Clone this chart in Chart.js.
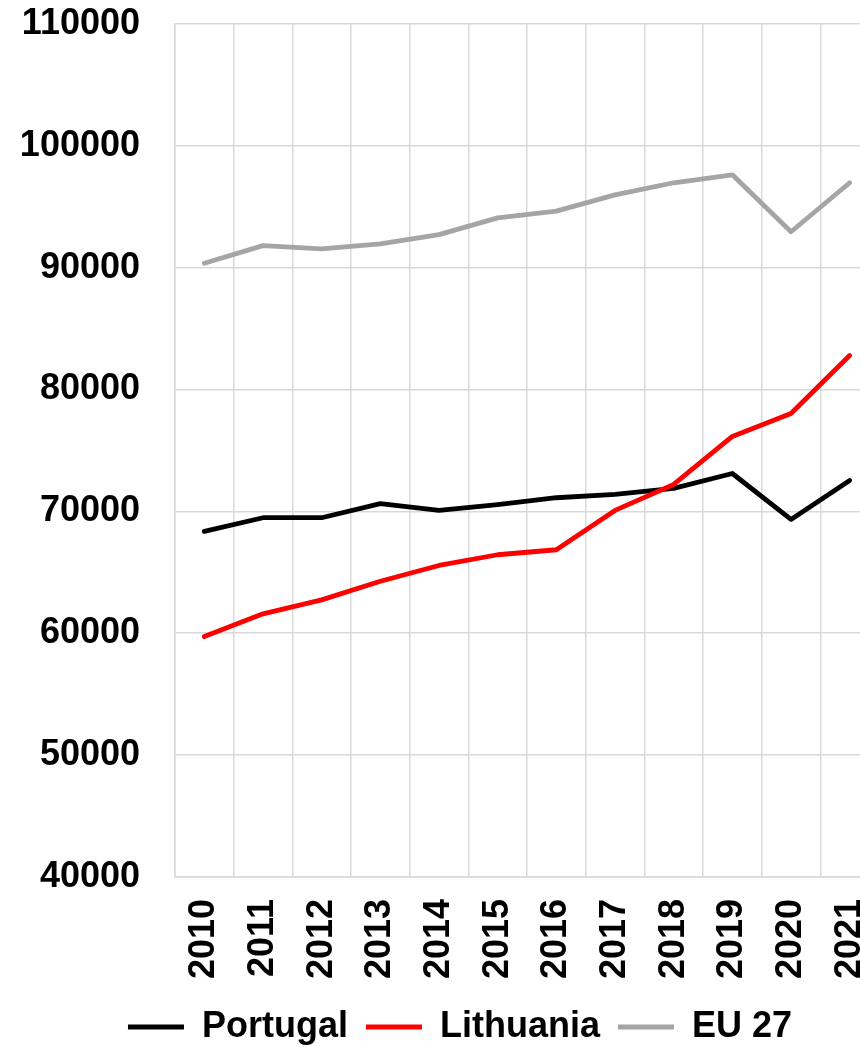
<!DOCTYPE html>
<html>
<head>
<meta charset="utf-8">
<script src="https://cdn.jsdelivr.net/npm/chart.js@4.4.0/dist/chart.umd.min.js"></script>
<style>
    html, body { margin: 0; padding: 0; background: #ffffff; overflow: hidden; }
    canvas { display: block; }
</style>
</head>
<body>
<canvas id="lineChart" width="900" height="1055"></canvas>
<script>
const years = ["2010", "2011", "2012", "2013", "2014", "2015", "2016", "2017", "2018", "2019", "2020", "2021"];
const portugal = [68360, 69480, 69480, 70630, 70080, 70550, 71120, 71400, 71890, 73110, 69340, 72540];
const lithuania = [59730, 61590, 62740, 64270, 65560, 66440, 66850, 70080, 72210, 76150, 78030, 82790];
const eu27 = [90360, 91810, 91540, 91950, 92710, 94090, 94640, 95980, 96970, 97620, 92950, 96970];

const FONT = "Arial, 'Liberation Sans', sans-serif";
const GRID = "#d9d9d9";

function series(label, data, color, order) {
    return {
        label: label,
        data: data,
        borderColor: color,
        backgroundColor: color,
        borderWidth: 4.8,
        borderCapStyle: "round",
        borderJoinStyle: "round",
        pointRadius: 0,
        tension: 0,
        order: order
    };
}

const ctx = document.getElementById("lineChart");
new Chart(ctx, {
    type: "line",
    data: {
        labels: years,
        datasets: [
            series("Portugal", portugal, "#000000", 2),
            series("Lithuania", lithuania, "#ff0000", 1),
            series("EU 27", eu27, "#a5a5a5", 0)
        ]
    },
    options: {
        responsive: false,
        animation: false,
        layout: {
            padding: { left: 20, right: 0, top: 24, bottom: 0 }
        },
        scales: {
            x: {
                offset: true,
                grid: { color: GRID, lineWidth: 1.5, offset: true, drawTicks: false },
                border: { color: GRID, width: 1.5 },
                ticks: {
                    color: "#000000",
                    font: { family: FONT, size: 36, weight: "bold" },
                    minRotation: 90,
                    maxRotation: 90,
                    padding: 22,
                    autoSkip: false
                },
                afterFit: function (scale) {
                    scale.height -= 10;
                    scale.paddingRight = 21;
                }
            },
            y: {
                min: 40000,
                max: 110000,
                grid: { color: GRID, lineWidth: 1.5, drawTicks: false },
                border: { color: GRID, width: 1.5 },
                ticks: {
                    stepSize: 10000,
                    color: "#000000",
                    font: { family: FONT, size: 36, weight: "bold" },
                    padding: 35,
                    callback: value => String(value)
                },
                afterFit: function (scale) {
                    scale.width = 155;
                    scale.paddingTop = 0;
                    scale.paddingBottom = 0;
                }
            }
        },
        plugins: {
            legend: {
                display: true,
                position: "bottom",
                labels: {
                    color: "#000000",
                    font: { family: FONT, size: 36, weight: "bold" },
                    usePointStyle: true,
                    pointStyle: "line",
                    pointStyleWidth: 56,
                    padding: 18,
                    sort: (a, b) => a.datasetIndex - b.datasetIndex
                }
            },
            tooltip: { enabled: false }
        }
    }
});
</script>
</body>
</html>
